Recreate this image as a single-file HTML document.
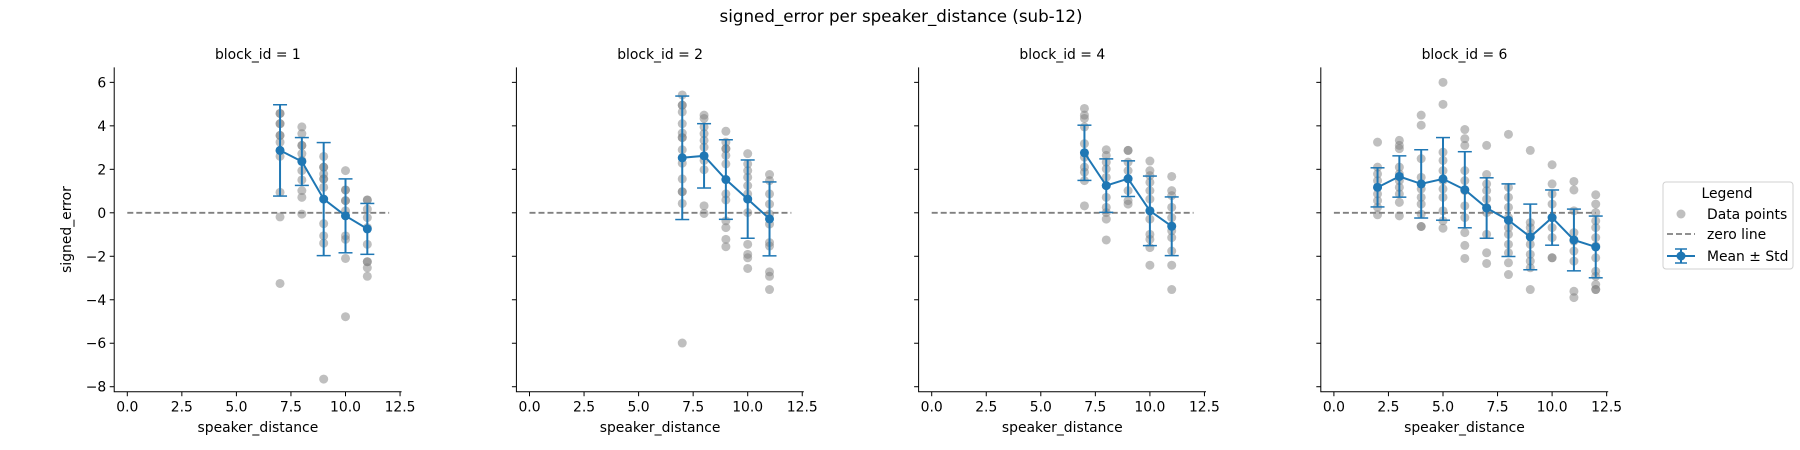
<!DOCTYPE html>
<html><head><meta charset="utf-8"><style>
body{margin:0;background:#fff;}
svg{display:block;font-family:"DejaVu Sans","Liberation Sans",sans-serif;}
</style></head><body>
<svg id="chart" width="1800" height="450" viewBox="0 0 1800 450" xmlns="http://www.w3.org/2000/svg">
<rect width="1800" height="450" fill="#fff"/>
<text x="901" y="22" text-anchor="middle" font-size="16.7" fill="#000">signed_error per speaker_distance (sub-12)</text>
<g id="panels"></g>
<g>
<rect x="1663" y="182" width="130" height="87" rx="3" fill="#fff" stroke="#d0d0d0"/>
<text x="1727" y="198" text-anchor="middle" font-size="13.9">Legend</text>
<g>
<circle cx="1681" cy="214" r="4.5" fill="#808080" opacity="0.5"/>
<text x="1707" y="219" font-size="13.9">Data points</text></g>
<g>
<line x1="1667" y1="234" x2="1695" y2="234" stroke="#808080" stroke-width="1.8" stroke-dasharray="6,3"/>
<text x="1707" y="239" font-size="13.9">zero line</text></g>
<g>
<line x1="1667" y1="256" x2="1695" y2="256" stroke="#1f77b4" stroke-width="2"/>
<line x1="1681" y1="249" x2="1681" y2="263" stroke="#1f77b4" stroke-width="2"/>
<line x1="1675" y1="249" x2="1687" y2="249" stroke="#1f77b4" stroke-width="1.5"/>
<line x1="1675" y1="263" x2="1687" y2="263" stroke="#1f77b4" stroke-width="1.5"/>
<circle cx="1681" cy="256" r="4.5" fill="#1f77b4"/>
<text x="1707" y="261" font-size="13.9">Mean ± Std</text></g>
</g>
</svg>
<script>
const blockIds = [1, 2, 4, 6];
const xTicks = [0, 2.5, 5, 7.5, 10, 12.5];
const xTickLabels = ["0.0", "2.5", "5.0", "7.5", "10.0", "12.5"];
const yTicks = [6, 4, 2, 0, -2, -4, -6, -8];
const yTickLabels = ["6", "4", "2", "0", "\u22122", "\u22124", "\u22126", "\u22128"];

const distances1 = [7, 8, 9, 10, 11];
const means1 = [2.87, 2.36, 0.63, -0.14, -0.74];
const stds1 = [2.1, 1.1, 2.6, 1.7, 1.17];
const points1 = [
 [4.57,4.57,4.1,4.1,3.56,3.56,3.25,2.87,2.6,0.94,-0.19,-3.25],
 [3.95,3.64,3.1,3.1,2.72,2.41,1.94,1.51,1.02,0.71,-0.06],
 [2.59,2.1,2.1,1.79,1.56,1.56,1.17,-0.5,-1.06,-1.4,-7.65],
 [1.94,1.05,1.05,0.56,0.56,0.09,-1.06,-1.22,-2.1,-4.78],
 [0.59,0.59,0.17,-0.22,-0.68,-1.45,-2.25,-2.25,-2.53,-2.92]];

const distances2 = [7, 8, 9, 10, 11];
const means2 = [2.53, 2.62, 1.53, 0.63, -0.28];
const stds2 = [2.84, 1.48, 1.83, 1.8, 1.7];
const points2 = [
 [5.42,4.95,4.95,4.64,4.1,3.67,3.46,3.46,2.9,2.28,1.56,0.97,0.97,0.43,-5.99],
 [4.49,4.34,3.95,3.64,3.33,3.02,2.41,1.98,0.32,-0.03],
 [3.75,3.25,2.95,2.95,2.64,2.25,0.87,0.59,-0.37,-0.68,-1.22,-1.56],
 [2.72,2.25,1.94,1.63,1.25,0.87,0.01,-1.45,-1.91,-2.07,-2.56],
 [1.76,1.48,0.87,0.4,-0.06,-0.52,-1.37,-1.53,-2.72,-2.92,-3.53]];

const distances4 = [7, 8, 9, 10, 11];
const means4 = [2.76, 1.25, 1.57, 0.09, -0.62];
const stds4 = [1.27, 1.23, 0.82, 1.6, 1.35];
const points4 = [
 [4.8,4.49,4.34,3.95,3.18,2.56,2.1,1.87,1.48,0.32],
 [2.9,2.64,2.33,2.02,1.63,1.25,0.71,0.25,0.01,-0.29,-1.25],
 [2.87,2.87,2.33,1.94,1.56,1.02,0.56,0.4],
 [2.38,1.94,1.71,1.4,1.02,0.63,0.09,-0.29,-0.99,-1.22,-1.6,-2.41],
 [1.67,1.02,0.79,0.25,-0.22,-0.6,-0.83,-1.14,-1.76,-2.41,-3.53]];

const distances6 = [2, 3, 4, 5, 6, 7, 8, 9, 10, 11, 12];
const means6 = [1.17, 1.67, 1.33, 1.56, 1.06, 0.22, -0.34, -1.11, -0.22, -1.25, -1.57];
const stds6 = [0.9, 0.95, 1.57, 1.9, 1.75, 1.39, 1.67, 1.51, 1.27, 1.42, 1.42];
const points6 = [
 [3.25,2.1,1.79,1.48,1.17,0.87,0.56,0.25,-0.09],
 [3.33,3.1,2.95,2.1,1.79,1.48,1.17,0.87,0.48,-0.14],
 [4.49,4.03,2.49,1.63,1.1,0.71,0.4,-0.06,-0.63,-0.63],
 [6.0,4.99,2.79,2.41,1.94,1.48,1.1,0.71,0.09,-0.37,-0.71],
 [3.83,3.41,3.1,1.94,1.48,1.02,0.32,-0.22,-0.91,-1.5,-2.1],
 [3.1,1.76,1.33,1.02,0.63,0.25,0.01,-0.99,-1.84,-2.33],
 [3.61,1.17,0.71,0.25,-0.22,-0.68,-0.99,-1.45,-1.84,-2.3,-2.84],
 [2.87,-0.45,-0.68,-0.99,-1.45,-1.91,-2.22,-2.53,-3.53],
 [2.21,1.33,0.87,0.4,-0.22,-0.68,-1.14,-2.07,-2.07],
 [1.44,1.05,0.09,-0.91,-1.3,-1.76,-2.22,-3.61,-3.9],
 [0.83,0.4,0.01,-0.37,-0.68,-1.14,-1.53,-2.07,-2.69,-2.92,-3.3,-3.53,-3.53]];

const panelDistances = [distances1, distances2, distances4, distances6];
const panelMeans = [means1, means2, means4, means6];
const panelStds = [stds1, stds2, stds4, stds6];
const panelPoints = [points1, points2, points4, points6];

const NS = "http://www.w3.org/2000/svg";
const root = document.getElementById("panels");
const X0 = 127.3, XS = 21.82, PANEL_DX = 402.2;
const Y0 = 212.8, YS = 21.74;
const XMIN = -0.6, XMAX = 12.57, YMAX = 6.69, YMIN = -8.23;
function mk(tag, attrs, parent) {
  const e = document.createElementNS(NS, tag);
  for (const k in attrs) e.setAttribute(k, attrs[k]);
  parent.appendChild(e);
  return e;
}
function yPix(v) { return Y0 - YS * v; }

blockIds.forEach((bid, p) => {
  const off = p * PANEL_DX;
  const xPix = v => X0 + off + XS * v;
  const g = mk("g", {}, root);
  
  
  const left = xPix(XMIN), right = xPix(XMAX), top = yPix(YMAX), bot = yPix(YMIN);
  const t = mk("text", {x: (left + right) / 2, y: 59, "text-anchor": "middle", "font-size": "13.9"}, g);
  t.textContent = "block_id = " + bid;
  
  
  const sp = mk("path", {d: `M${left},${top}V${bot}H${right}`, fill: "none", stroke: "#000", "stroke-width": "1"}, g);
  
  
  xTicks.forEach((v, i) => {
    const x = xPix(v);
    mk("line", {x1: x, x2: x, y1: bot, y2: bot + 4.5, stroke: "#000"}, g);
    const tl = mk("text", {x: x, y: bot + 20, "text-anchor": "middle", "font-size": "13.9"}, g);
    tl.textContent = xTickLabels[i];
    
    
  });
  yTicks.forEach((v, i) => {
    const y = yPix(v);
    mk("line", {x1: left - 4.5, x2: left, y1: y, y2: y, stroke: "#000"}, g);
    if (p === 0) {
      const tl = mk("text", {x: left - 8, y: y + 5, "text-anchor": "end", "font-size": "13.9"}, g);
      tl.textContent = yTickLabels[i];
      
      
    }
  });
  const xl = mk("text", {x: (left + right) / 2, y: 432, "text-anchor": "middle", "font-size": "13.9"}, g);
  xl.textContent = "speaker_distance";
  
  
  if (p === 0) {
    const yl = mk("text", {x: 0, y: 0, "text-anchor": "middle", "font-size": "13.9", transform: `translate(71,${(top + bot) / 2}) rotate(-90)`}, g);
    yl.textContent = "signed_error";
    
    
  }
  const dists = panelDistances[p], means = panelMeans[p], stds = panelStds[p], pts = panelPoints[p];
  pts.forEach((arr, i) => {
    arr.forEach(v => {
      const c = mk("circle", {cx: xPix(dists[i]), cy: yPix(v), r: 4.5, fill: "#808080", opacity: 0.5}, g);
      
      
    });
  });
  const z = mk("line", {x1: xPix(0), x2: xPix(12), y1: yPix(0), y2: yPix(0), stroke: "#808080", "stroke-width": "1.8", "stroke-dasharray": "6,3"}, g);
  
  
  dists.forEach((d, i) => {
    const x = xPix(d), y1 = yPix(means[i] + stds[i]), y2 = yPix(means[i] - stds[i]);
    const eb = mk("g", {stroke: "#1f77b4", "stroke-width": "2"}, g);
    
    
    mk("line", {x1: x, x2: x, y1: y1, y2: y2}, eb);
    mk("line", {x1: x - 7, x2: x + 7, y1: y1, y2: y1, "stroke-width": "1.5"}, eb);
    mk("line", {x1: x - 7, x2: x + 7, y1: y2, y2: y2, "stroke-width": "1.5"}, eb);
  });
  const ml = mk("polyline", {points: dists.map((d, i) => xPix(d) + "," + yPix(means[i])).join(" "), fill: "none", stroke: "#1f77b4", "stroke-width": "2"}, g);
  
  
  dists.forEach((d, i) => {
    const m = mk("circle", {cx: xPix(d), cy: yPix(means[i]), r: 4.5, fill: "#1f77b4"}, g);
    
    
  });
});
</script>
</body></html>
